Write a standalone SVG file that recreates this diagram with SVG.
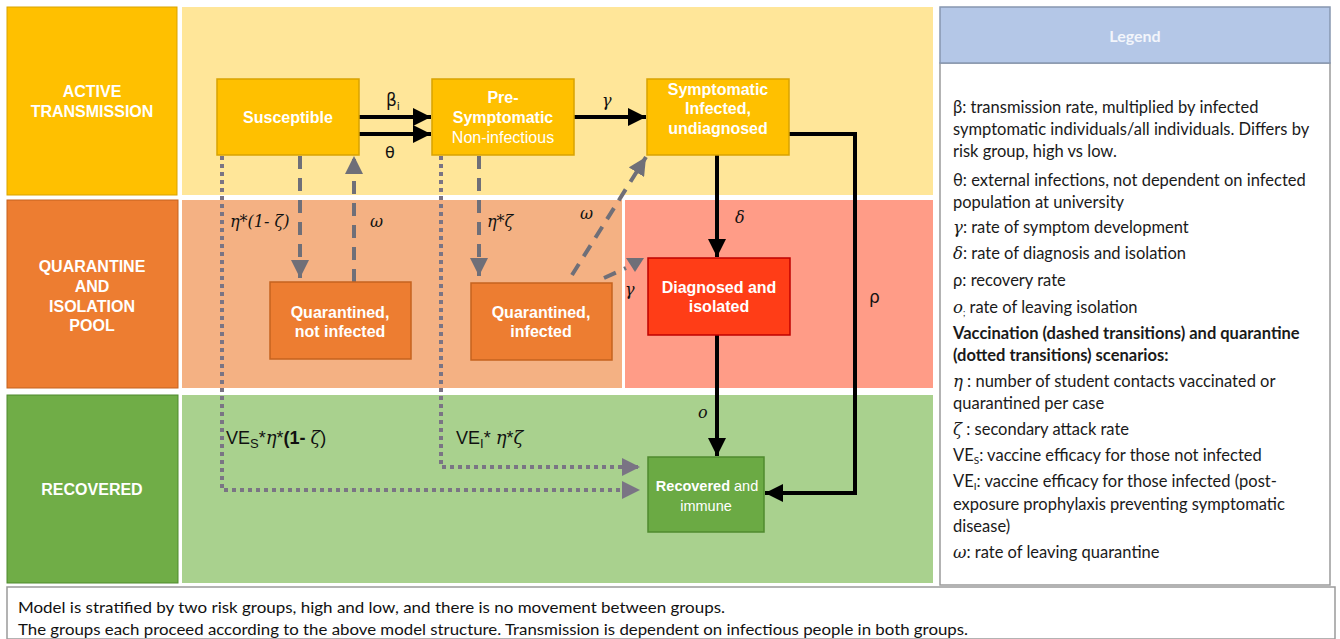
<svg xmlns="http://www.w3.org/2000/svg" width="1340" height="639" viewBox="0 0 1340 639">
<defs>
<style>
.hdr{font-family:"Liberation Sans",Arial,sans-serif;font-weight:bold;font-size:16px;fill:#fff;text-anchor:middle}
.nd{font-family:"Liberation Sans",Arial,sans-serif;font-weight:bold;font-size:16px;fill:#fff;text-anchor:middle}
.nn{font-weight:normal}
.lbl{font-family:"DejaVu Serif",serif;font-size:16px;fill:#111;font-style:italic}
.lbs{font-family:"Liberation Sans",Arial,sans-serif;font-size:18px;fill:#111}
.leg{font-family:Lato,"Open Sans",sans-serif;font-size:16.5px;fill:#1a1a1a}
.foot{font-family:Lato,"Open Sans",sans-serif;font-size:15px;fill:#111}
.blk{stroke:#000;stroke-width:4;fill:none}
.dash{stroke:#6f6f78;stroke-width:4;fill:none;stroke-dasharray:13 9}
.dot{stroke:#7a7484;stroke-width:4;fill:none;stroke-dasharray:4 4}
</style>
<marker id="ab" viewBox="0 0 10 10" refX="10" refY="5" markerWidth="4.5" markerHeight="4.5" markerUnits="strokeWidth" orient="auto"><path d="M0,0 L10,5 L0,10 z" fill="#000"/></marker>
<marker id="ag" viewBox="0 0 10 10" refX="10" refY="5" markerWidth="4.5" markerHeight="4.5" markerUnits="strokeWidth" orient="auto"><path d="M0,0 L10,5 L0,10 z" fill="#6f6f78"/></marker>
<marker id="ad" viewBox="0 0 10 10" refX="10" refY="5" markerWidth="4.5" markerHeight="4.5" markerUnits="strokeWidth" orient="auto"><path d="M0,0 L10,5 L0,10 z" fill="#7a7484"/></marker>
</defs>
<rect width="1340" height="639" fill="#fff"/>

<g id="bands">
<rect x="182" y="7" width="751" height="188" fill="#FFE699"/>
<rect x="182" y="200" width="440" height="188" fill="#F4B183"/>
<rect x="625" y="200" width="308" height="188" fill="#FF9C87"/>
<rect x="182" y="395" width="751" height="188" fill="#A9D18E"/>
</g>

<g id="row-active">
<rect x="7" y="7" width="170" height="188" fill="#FFC000" stroke="#D9A300" stroke-width="1"/>
<text class="hdr" x="92" y="97">ACTIVE</text>
<text class="hdr" x="92" y="117">TRANSMISSION</text>
</g>
<g id="row-quarantine">
<rect x="7" y="200" width="171" height="188" fill="#ED7D31" stroke="#C5631F" stroke-width="1"/>
<text class="hdr" x="92" y="272">QUARANTINE</text>
<text class="hdr" x="92" y="292">AND</text>
<text class="hdr" x="92" y="312">ISOLATION</text>
<text class="hdr" x="92" y="331">POOL</text>
</g>
<g id="row-recovered">
<rect x="7" y="395" width="171" height="188" fill="#70AD47" stroke="#4F8A2E" stroke-width="1"/>
<text class="hdr" x="92" y="495">RECOVERED</text>
</g>

<g id="connectors">
<polyline class="dot" points="222,156 222,490 640,490" marker-end="url(#ad)"/>
<polyline class="dot" points="441,156 441,467 640,467" marker-end="url(#ad)"/>
<line class="dash" x1="300" y1="156" x2="300" y2="278" marker-end="url(#ag)"/>
<line class="dash" x1="354" y1="282" x2="354" y2="156" marker-end="url(#ag)"/>
<line class="dash" x1="479" y1="156" x2="479" y2="276" marker-end="url(#ag)"/>
<line class="dash" x1="572" y1="275" x2="646" y2="157" marker-end="url(#ag)"/>
<line class="dash" x1="604" y1="278" x2="626" y2="268"/>
<polygon points="626,258 644,258 635,272" fill="#6f6f78"/>
<line class="blk" x1="359" y1="117" x2="431" y2="117" marker-end="url(#ab)"/>
<line class="blk" x1="359" y1="134" x2="431" y2="134" marker-end="url(#ab)"/>
<line class="blk" x1="574" y1="117" x2="646" y2="117" marker-end="url(#ab)"/>
<line class="blk" x1="717" y1="155" x2="717" y2="257" marker-end="url(#ab)"/>
<line class="blk" x1="717" y1="335" x2="717" y2="456" marker-end="url(#ab)"/>
<polyline class="blk" points="789,134 855,134 855,493 765,493" marker-end="url(#ab)"/>
<text x="386" y="106" font-family="DejaVu Sans,sans-serif" font-size="17" fill="#111">β<tspan font-size="11" dy="4">i</tspan></text>
<text x="385" y="158" font-family="DejaVu Sans,sans-serif" font-size="16" fill="#111">θ</text>
<text class="lbl" x="602" y="106">γ</text>
<text class="lbl" x="735" y="223">δ</text>
<text x="869" y="303" font-family="DejaVu Sans,sans-serif" font-size="17" fill="#111">ρ</text>
<text class="lbl" x="698" y="418" font-size="14">o</text>
<text class="lbl" x="230" y="227" font-size="17">η*(1- ζ)</text>
<text class="lbl" x="370" y="227" font-size="16">ω</text>
<text class="lbl" x="487" y="227" font-size="17">η*ζ</text>
<text class="lbl" x="580" y="219" font-size="16">ω</text>
<text class="lbl" x="625" y="295" font-size="16">γ</text>
<text class="lbs" x="226" y="444">VE<tspan font-size="13" dy="4">S</tspan><tspan dy="-4">*</tspan><tspan font-family="DejaVu Serif" font-style="italic">η</tspan>*<tspan font-weight="bold">(1-</tspan> <tspan font-family="DejaVu Serif" font-style="italic">ζ</tspan>)</text>
<text class="lbs" x="456" y="444">VE<tspan font-size="13" dy="4">I</tspan><tspan dy="-4">* </tspan><tspan font-family="DejaVu Serif" font-style="italic">η</tspan>*<tspan font-family="DejaVu Serif" font-style="italic">ζ</tspan></text>
</g>

<g id="node-susceptible">
<rect x="217" y="79" width="142" height="76" fill="#FFC000" stroke="#D9A300" stroke-width="1.5"/>
<text class="nd" x="288" y="123">Susceptible</text>
</g>
<g id="node-presymptomatic">
<rect x="432" y="79" width="142" height="76" fill="#FFC000" stroke="#D9A300" stroke-width="1.5"/>
<text class="nd" x="503" y="103">Pre-</text>
<text class="nd" x="503" y="123">Symptomatic</text>
<text class="nd nn" x="503" y="143">Non-infectious</text>
</g>
<g id="node-symptomatic">
<rect x="647" y="79" width="142" height="76" fill="#FFC000" stroke="#D9A300" stroke-width="1.5"/>
<text class="nd" x="718" y="95">Symptomatic</text>
<text class="nd" x="718" y="114">Infected,</text>
<text class="nd" x="718" y="134">undiagnosed</text>
</g>
<g id="node-quarantined-not-infected">
<rect x="270" y="282" width="141" height="77" fill="#ED7D31" stroke="#C5631F" stroke-width="1.5"/>
<text class="nd" x="340" y="318">Quarantined,</text>
<text class="nd" x="340" y="337">not infected</text>
</g>
<g id="node-quarantined-infected">
<rect x="471" y="283" width="141" height="77" fill="#ED7D31" stroke="#C5631F" stroke-width="1.5"/>
<text class="nd" x="541" y="318">Quarantined,</text>
<text class="nd" x="541" y="337">infected</text>
</g>
<g id="node-diagnosed">
<rect x="648" y="258" width="142" height="77" fill="#FF3D17" stroke="#C00000" stroke-width="1.5"/>
<text class="nd" x="719" y="293">Diagnosed and</text>
<text class="nd" x="719" y="312">isolated</text>
</g>
<g id="node-recovered">
<rect x="648" y="457" width="116" height="75" fill="#6BAA44" stroke="#4F8A2E" stroke-width="1.5"/>
<text class="nd" x="730" y="491" style="font-size:14.5px;text-anchor:end">Recovered</text>
<text class="nd nn" x="734" y="491" style="font-size:14.5px;text-anchor:start">and</text>
<text class="nd nn" x="706" y="511" style="font-size:14.5px">immune</text>
</g>

<g id="legend">
<rect x="940" y="63" width="390" height="522" fill="#fff" stroke="#9a9a9a" stroke-width="1.5"/>
<rect x="940" y="7" width="390" height="56" fill="#B4C7E7" stroke="#8797B0" stroke-width="1.5"/>
<text x="1135" y="42" text-anchor="middle" font-family="Lato,'Open Sans',sans-serif" font-weight="bold" font-size="16" fill="#F2F5FB">Legend</text>
<text class="leg" x="953" y="113">β: transmission rate, multiplied by infected</text>
<text class="leg" x="953" y="135">symptomatic individuals/all individuals. Differs by</text>
<text class="leg" x="953" y="157">risk group, high vs low.</text>
<text class="leg" x="953" y="186">θ: external infections, not dependent on infected</text>
<text class="leg" x="953" y="208">population at university</text>
<text class="leg" x="953" y="233"><tspan font-family="DejaVu Serif" font-style="italic">γ</tspan>: rate of symptom development</text>
<text class="leg" x="953" y="259"><tspan font-family="DejaVu Serif" font-style="italic">δ</tspan>: rate of diagnosis and isolation</text>
<text class="leg" x="953" y="286">ρ: recovery rate</text>
<text class="leg" x="953" y="313"><tspan font-family="DejaVu Serif" font-style="italic">o</tspan><tspan font-size="9" dy="3">;</tspan><tspan dy="-3"> rate of leaving isolation</tspan></text>
<text class="leg" x="953" y="339" font-weight="bold">Vaccination (dashed transitions) and quarantine</text>
<text class="leg" x="953" y="361" font-weight="bold">(dotted transitions) scenarios:</text>
<text class="leg" x="953" y="387"><tspan font-family="DejaVu Serif" font-style="italic">η</tspan> : number of student contacts vaccinated or</text>
<text class="leg" x="953" y="409">quarantined per case</text>
<text class="leg" x="953" y="435"><tspan font-family="DejaVu Serif" font-style="italic">ζ</tspan> : secondary attack rate</text>
<text class="leg" x="953" y="461">VE<tspan font-size="10" dy="3">S</tspan><tspan dy="-3">: vaccine efficacy for those not infected</tspan></text>
<text class="leg" x="953" y="487">VE<tspan font-size="10" dy="3">I</tspan><tspan dy="-3">: vaccine efficacy for those infected (post-</tspan></text>
<text class="leg" x="953" y="510">exposure prophylaxis preventing symptomatic</text>
<text class="leg" x="953" y="532">disease)</text>
<text class="leg" x="953" y="558"><tspan font-family="DejaVu Serif" font-style="italic">ω</tspan>: rate of leaving quarantine</text>
</g>

<g id="footer">
<rect x="7" y="587" width="1328" height="52" fill="#fff" stroke="#9a9a9a" stroke-width="1.5"/>
<text class="foot" x="18" y="613" textLength="707" lengthAdjust="spacingAndGlyphs">Model is stratified by two risk groups, high and low, and there is no movement between groups.</text>
<text class="foot" x="18" y="635" textLength="950" lengthAdjust="spacingAndGlyphs">The groups each proceed according to the above model structure. Transmission is dependent on infectious people in both groups.</text>
</g>
</svg>
